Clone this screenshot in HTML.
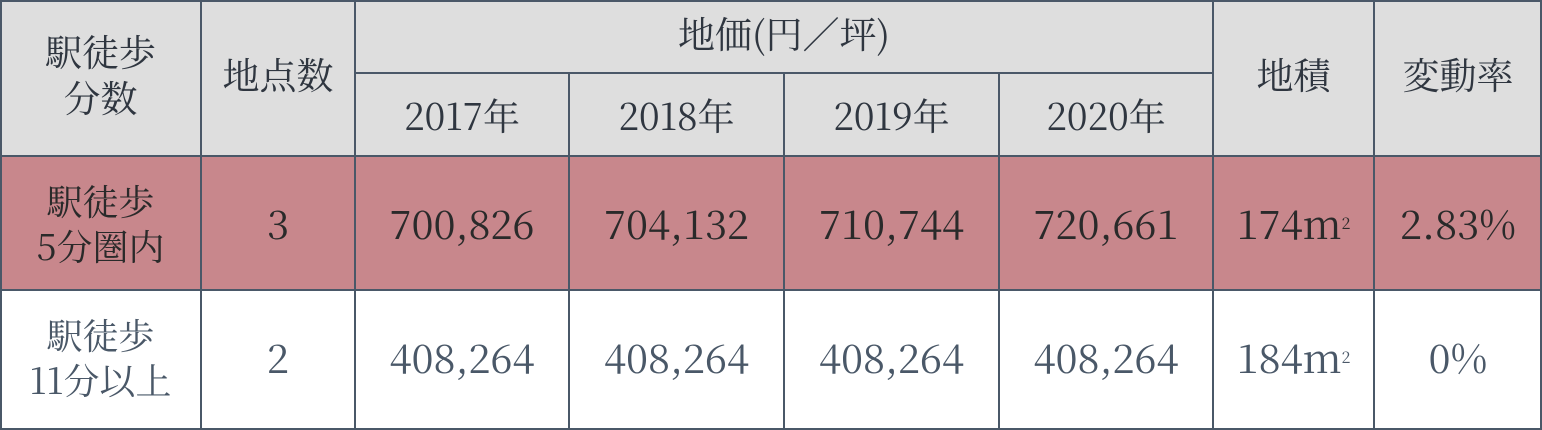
<!DOCTYPE html>
<html><head><meta charset="utf-8"><style>
body{margin:0;width:1542px;height:430px;overflow:hidden;background:#fff}
.c{position:absolute;box-sizing:border-box;display:flex;align-items:center;justify-content:center;text-align:center;font-family:"Noto Serif CJK JP","Noto Serif CJK SC","Liberation Serif",serif;color:#2f3640;line-height:1.25}
.h{background:#dedede;font-size:37px}
.p{background:#c8878c;font-size:40px;color:#2a2a2a}
.w{background:#fff;font-size:40px;color:#4a5868}
.b{position:absolute;background:#4a5868}
sup{font-size:16px;vertical-align:24px}
</style></head><body>
<div>
<div class="c h" style="left:0;top:0;width:201px;height:156px;padding-bottom:10px">駅徒歩<br>分数</div>
<div class="c h" style="left:201px;top:0;width:154px;height:156px;padding-bottom:10px">地点数</div>
<div class="c h" style="left:355px;top:0;width:858px;height:73px;padding-bottom:8px">地価(円／坪)</div>
<div class="c h" style="left:355px;top:73px;width:214px;height:83px">2017年</div>
<div class="c h" style="left:569px;top:73px;width:215px;height:83px">2018年</div>
<div class="c h" style="left:784px;top:73px;width:215px;height:83px">2019年</div>
<div class="c h" style="left:999px;top:73px;width:214px;height:83px">2020年</div>
<div class="c h" style="left:1213px;top:0;width:161px;height:156px;padding-bottom:10px">地積</div>
<div class="c h" style="left:1374px;top:0;width:168px;height:156px;padding-bottom:10px">変動率</div>

<div class="c p" style="left:0;top:156px;width:201px;height:134px;font-size:36px">駅徒歩<br>5分圏内</div>
<div class="c p" style="left:201px;top:156px;width:154px;height:134px">3</div>
<div class="c p" style="left:355px;top:156px;width:214px;height:134px">700,826</div>
<div class="c p" style="left:569px;top:156px;width:215px;height:134px">704,132</div>
<div class="c p" style="left:784px;top:156px;width:215px;height:134px">710,744</div>
<div class="c p" style="left:999px;top:156px;width:214px;height:134px">720,661</div>
<div class="c p" style="left:1213px;top:156px;width:161px;height:134px">174m<sup>2</sup></div>
<div class="c p" style="left:1374px;top:156px;width:168px;height:134px">2.83%</div>

<div class="c w" style="left:0;top:290px;width:201px;height:140px;font-size:36px;padding-bottom:6px">駅徒歩<br>11分以上</div>
<div class="c w" style="left:201px;top:290px;width:154px;height:140px;padding-bottom:6px">2</div>
<div class="c w" style="left:355px;top:290px;width:214px;height:140px;padding-bottom:6px">408,264</div>
<div class="c w" style="left:569px;top:290px;width:215px;height:140px;padding-bottom:6px">408,264</div>
<div class="c w" style="left:784px;top:290px;width:215px;height:140px;padding-bottom:6px">408,264</div>
<div class="c w" style="left:999px;top:290px;width:214px;height:140px;padding-bottom:6px">408,264</div>
<div class="c w" style="left:1213px;top:290px;width:161px;height:140px;padding-bottom:6px">184m<sup>2</sup></div>
<div class="c w" style="left:1374px;top:290px;width:168px;height:140px;padding-bottom:6px">0%</div>

<div class="b" style="left:0;top:0;width:1542px;height:2px"></div>
<div class="b" style="left:355px;top:72px;width:858px;height:2px"></div>
<div class="b" style="left:0;top:155px;width:1542px;height:2px"></div>
<div class="b" style="left:0;top:289px;width:1542px;height:2px"></div>
<div class="b" style="left:0;top:428px;width:1542px;height:2px"></div>
<div class="b" style="left:0;top:0;width:2px;height:430px"></div>
<div class="b" style="left:200px;top:0;width:2px;height:430px"></div>
<div class="b" style="left:354px;top:0;width:2px;height:430px"></div>
<div class="b" style="left:568px;top:73px;width:2px;height:357px"></div>
<div class="b" style="left:783px;top:73px;width:2px;height:357px"></div>
<div class="b" style="left:998px;top:73px;width:2px;height:357px"></div>
<div class="b" style="left:1212px;top:0;width:2px;height:430px"></div>
<div class="b" style="left:1373px;top:0;width:2px;height:430px"></div>
<div class="b" style="left:1540px;top:0;width:2px;height:430px"></div>
</div>
</body></html>
